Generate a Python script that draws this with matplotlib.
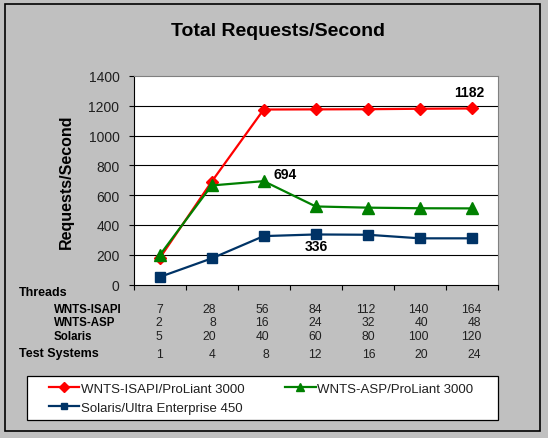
import numpy as np
import matplotlib
matplotlib.use("Agg")
import matplotlib.pyplot as plt
from matplotlib.patches import Rectangle
from matplotlib.transforms import blended_transform_factory

plt.rcParams['font.family'] = ['Liberation Sans', 'DejaVu Sans']

# data
series_names = ["WNTS-ISAPI/ProLiant 3000", "WNTS-ASP/ProLiant 3000", "Solaris/Ultra Enterprise 450"]
isapi = [175, 690, 1175, 1176, 1177, 1180, 1182]
asp = [195, 665, 694, 524, 516, 512, 511]
solaris = [50, 175, 325, 336, 334, 310, 310]

threads_isapi = [7, 28, 56, 84, 112, 140, 164]
threads_asp = [2, 8, 16, 24, 32, 40, 48]
threads_solaris = [5, 20, 40, 60, 80, 100, 120]
test_systems = [1, 4, 8, 12, 16, 20, 24]

W, H = 548, 439
fig = plt.figure(figsize=(W / 100, H / 100), dpi=100, facecolor='#c0c0c0')

def fx(px):
    return px / W

def fy(py):
    return 1 - py / H

# outer frame
fig.patches.append(Rectangle((fx(4.5), fy(432)), fx(540) - fx(4.5), fy(4.5) - fy(432),
                             transform=fig.transFigure, fill=False, ec='black', lw=1.2))

ax = fig.add_axes([fx(133.5), fy(285.5), fx(498) - fx(133.5), fy(77) - fy(285.5)])
ax.set_facecolor('white')
x = np.arange(len(isapi))

ax.set_xlim(-0.5, len(isapi) - 0.5)
ax.set_ylim(0, 1400)
yt = np.arange(0, 1401, 200)
ax.set_yticks(yt)
ax.hlines(yt[1:-1], -0.5, len(isapi) - 0.5, colors='black', lw=0.8, zorder=1)
ax.set_xticks(np.arange(-0.5, len(isapi), 1))
ax.set_xticklabels([])
ax.tick_params(axis='x', direction='out', length=3.6, width=0.8, color='black')
ax.tick_params(axis='y', direction='out', length=3.6, width=0.8, color='black',
               labelsize=10, pad=6.5, labelcolor='#202020')
for s in ['top', 'right']:
    ax.spines[s].set_color('#808080')
    ax.spines[s].set_linewidth(0.8)
for s in ['left', 'bottom']:
    ax.spines[s].set_color('black')
    ax.spines[s].set_linewidth(0.8)

l1, = ax.plot(x, isapi, color='#ff0000', lw=1.6, marker='D', ms=6.5, zorder=3)
l2, = ax.plot(x, asp, color='#008000', lw=1.6, marker='^', ms=8, zorder=4)
l3, = ax.plot(x, solaris, color='#003366', lw=1.6, marker='s', ms=6.5, zorder=5)

ax.annotate(str(isapi[-1]), (x[-1], isapi[-1]), xytext=(-3, 16), textcoords='offset pixels',
            ha='center', va='center', fontsize=10, fontweight='bold')
ax.annotate(str(asp[2]), (x[2], asp[2]), xytext=(21, 7), textcoords='offset pixels',
            ha='center', va='center', fontsize=10, fontweight='bold')
ax.annotate(str(solaris[3]), (x[3], solaris[3]), xytext=(1, -12), textcoords='offset pixels',
            ha='center', va='center', fontsize=10, fontweight='bold')

fig.text(fx(278), fy(32), "Total Requests/Second", ha='center', va='center',
         fontsize=14, fontweight='bold')
fig.text(fx(66), fy(182), "Requests/Second", ha='center', va='center', rotation=90,
         fontsize=11.5, fontweight='bold')

# table of threads / test systems under the axis
fig.text(fx(19), fy(293), "Threads", ha='left', va='center', fontsize=9, fontweight='bold')
fig.text(fx(19), fy(354.5), "Test Systems", ha='left', va='center', fontsize=9, fontweight='bold')
rows = [("WNTS-ISAPI", threads_isapi, 310),
        ("WNTS-ASP", threads_asp, 323.5),
        ("Solaris", threads_solaris, 337.5),
        (None, test_systems, 354.5)]
tr = blended_transform_factory(ax.transData, fig.transFigure)
for name, vals, ypx in rows:
    if name:
        fig.text(fx(54), fy(ypx), name, ha='left', va='center', fontsize=8.3, fontweight='bold')
    for i, v in enumerate(vals):
        ax.text(i + 0.06 + 0.02 * i, fy(ypx), str(v), transform=tr, ha='right', va='center',
                fontsize=8.7, color='#202020', clip_on=False)

# legend: box drawn separately, entries spread inside it
fig.patches.append(Rectangle((fx(26.7), fy(421.3)), fx(497.7) - fx(26.7), fy(377.3) - fy(421.3),
                             transform=fig.transFigure, fc='white', ec='black', lw=0.9))
leg = fig.legend([l1, l3, l2], [series_names[0], series_names[2], series_names[1]],
                 ncol=2, loc='center', mode='expand',
                 bbox_to_anchor=(fx(45), fy(421.3), fx(477) - fx(45), fy(377.3) - fy(421.3)),
                 fontsize=9.5, frameon=False, handlelength=2.3, handletextpad=0.1,
                 borderpad=0.3, labelspacing=0.5, borderaxespad=0, columnspacing=1.0,
                 markerscale=0.75)
for t in leg.get_texts():
    t.set_color('#202020')

fig.savefig("out.png", dpi=100, facecolor=fig.get_facecolor())
